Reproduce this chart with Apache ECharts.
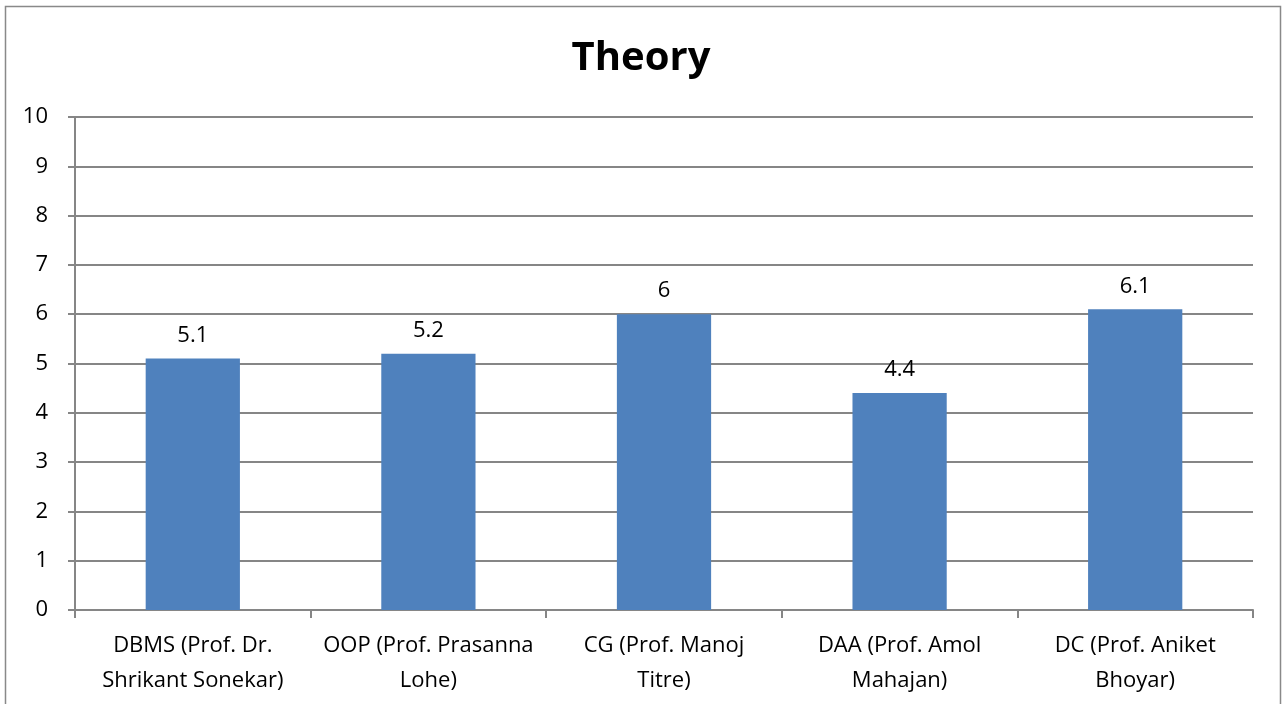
<!DOCTYPE html>
<html>
<head>
<meta charset="utf-8">
<script src="https://cdn.jsdelivr.net/npm/echarts@6/dist/echarts.min.js"></script>
<style>
  html, body { margin: 0; padding: 0; background: #fff; }
  #main { width: 1282px; height: 704px; }
</style>
</head>
<body>
<div id="main"></div>
<script>
// 数据
var categories = [
  'DBMS (Prof. Dr.\nShrikant Sonekar)',
  'OOP (Prof. Prasanna\nLohe)',
  'CG (Prof. Manoj\nTitre)',
  'DAA (Prof. Amol\nMahajan)',
  'DC (Prof. Aniket\nBhoyar)'
];
var scores = [5.1, 5.2, 6, 4.4, 6.1];
var yTicks = [0, 1, 2, 3, 4, 5, 6, 7, 8, 9, 10];

var myChart = echarts.init(document.getElementById('main'));
var font = '"Open Sans", "Noto Sans", sans-serif';

var option = {
  backgroundColor: '#fff',
  animation: false,
  title: {
    text: 'Theory',
    left: 'center',
    top: 34,
    textStyle: { fontFamily: font, fontSize: 40, fontWeight: 'bold', color: '#000' }
  },
  graphic: [{
    type: 'rect',
    shape: { x: 5.5, y: 6.5, width: 1275, height: 720 },
    style: { fill: 'none', stroke: '#898989', lineWidth: 1.5 },
    silent: true
  }],
  grid: { left: 75, right: 29, top: 117, bottom: 94 },
  xAxis: {
    type: 'category',
    data: categories,
    axisLine: { lineStyle: { color: '#868686', width: 2 } },
    axisTick: { show: true, length: 8, lineStyle: { color: '#868686', width: 2 } },
    axisLabel: {
      fontFamily: font, fontSize: 22, color: '#000',
      margin: 18, lineHeight: 35, interval: 0
    }
  },
  yAxis: {
    type: 'value',
    min: yTicks[0],
    max: yTicks[yTicks.length - 1],
    interval: 1,
    axisLine: { show: true, lineStyle: { color: '#868686', width: 2 } },
    axisTick: { show: true, length: 7, lineStyle: { color: '#868686', width: 2 } },
    axisLabel: { fontFamily: font, fontSize: 22, color: '#000', margin: 27 },
    splitLine: { lineStyle: { color: '#868686', width: 2 } }
  },
  series: [{
    type: 'bar',
    data: scores,
    barWidth: '40%',
    itemStyle: { color: '#4F81BD' },
    label: {
      show: true, position: 'top', distance: 12,
      fontFamily: font, fontSize: 22, color: '#000'
    }
  }]
};
myChart.setOption(option);
</script>
</body>
</html>
